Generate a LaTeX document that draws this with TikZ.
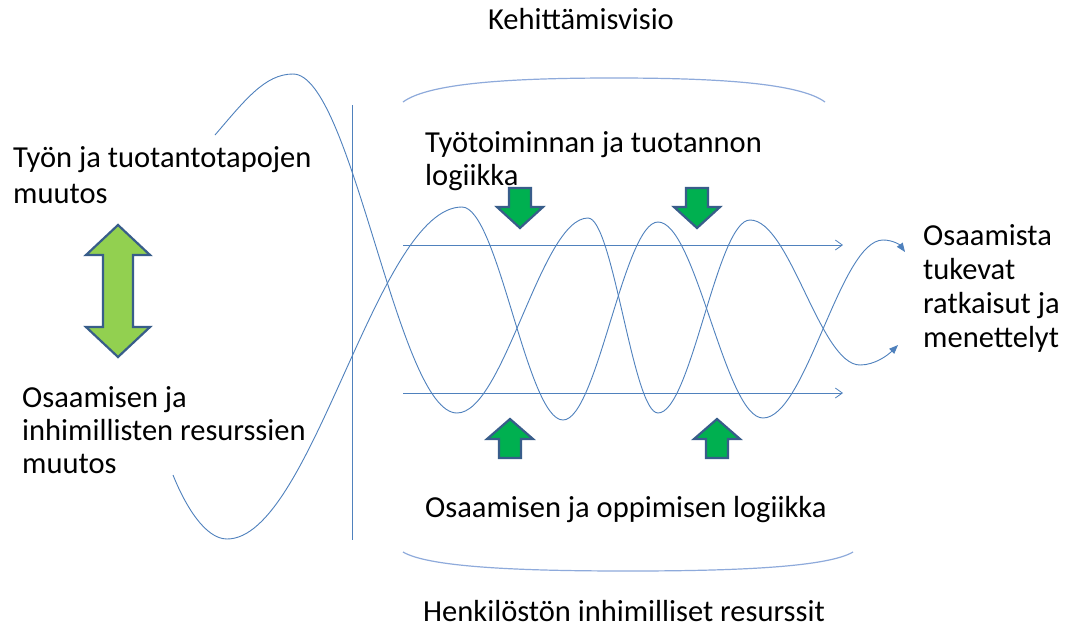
\documentclass[tikz,border=0pt]{standalone}
\usepackage{fontspec}
\setmainfont{Carlito}
\usetikzlibrary{arrows.meta}
\definecolor{wave}{HTML}{4F81BD}
\definecolor{frame}{HTML}{8EAADB}
\definecolor{edge}{HTML}{385D8A}
\definecolor{leaf}{HTML}{92D050}
\definecolor{grass}{HTML}{00B050}
\tikzset{
  labeltext/.style={anchor=base west,align=left,inner sep=0pt},
  wavepath/.style={draw=wave,line width=0.9pt},
  flowline/.style={draw=wave,line width=0.8pt,-{Straight Barb[length=7pt,width=10pt]}},
  greenarrow/.style={fill=grass,draw=edge,line width=2.2pt},
}

\begin{document}
\begin{tikzpicture}[x=1pt,y=-1pt,>={Triangle[length=9pt,width=7pt]},
                    font=\fontsize{30.5}{33}\selectfont]
  \fill[white] (0,0) rectangle (1077,633);
  \useasboundingbox (0,0) rectangle (1077,633);

  % texts (base = last line)
  \node[labeltext,anchor=base] (vision) at (581,29) {Kehittämisvisio};
  \node[labeltext,font=\fontsize{30.5}{36}\selectfont] (worktext) at (13,203)
    {Työn ja tuotantotapojen\\muutos};
  \node[labeltext] (comptext) at (22,473)
    {Osaamisen ja\\inhimillisten resurssien\\muutos};
  \node[labeltext] (prodlogic) at (425,185) {Työtoiminnan ja tuotannon\\logiikka};
  \node[labeltext] (learnlogic) at (425,517) {Osaamisen ja oppimisen logiikka};
  \node[labeltext] (hrtext) at (423,621) {Henkilöstön inhimilliset resurssit};
  \node[labeltext,font=\fontsize{30.5}{34}\selectfont] (solutions) at (923,347)
    {Osaamista\\tukevat\\ratkaisut ja\\menettelyt};

  % divider and brackets
  \draw[draw=wave,line width=1pt] (352,105) -- (352,540);
  \draw[draw=frame,line width=1.2pt] (403,102) .. controls (430,82) and (520,78) .. (614,78)
    .. controls (708,78) and (798,82) .. (825,102);
  \draw[draw=frame,line width=1.2pt] (403,552) .. controls (430,568) and (530,571) .. (628,571)
    .. controls (726,571) and (826,568) .. (853,552);

  % two waves
  \draw[wavepath,->] (215,135) .. controls (245,100) and (265,74) .. (293,74)
    .. controls (352,74) and (398,413) .. (457,413)
    .. controls (504,413) and (541,218) .. (588,218)
    .. controls (613,218) and (633,413) .. (658,413)
    .. controls (691,413) and (717,220) .. (750,220)
    .. controls (790,220) and (820,365) .. (860,365)
    .. controls (875,365) and (888,355) .. (898,345);
  \draw[wavepath,->] (173,475) .. controls (185,505) and (205,539) .. (227,539)
    .. controls (312,539) and (377,207) .. (462,207)
    .. controls (498,207) and (527,420) .. (563,420)
    .. controls (597,420) and (624,222) .. (658,222)
    .. controls (696,222) and (725,418) .. (763,418)
    .. controls (806,418) and (840,240) .. (883,240)
    .. controls (893,240) and (900,245) .. (905,252);

  % straight flows
  \coordinate (topin) at (403,245);
  \coordinate (topout) at (843,245);
  \coordinate (lowin) at (403,393);
  \coordinate (lowout) at (843,393);
  \draw[flowline] (topin) -- (topout);
  \draw[flowline] (lowin) -- (lowout);

  % block arrows
  \draw[greenarrow,fill=leaf] (118,225) -- (150,255) -- (133,255) -- (133,327) -- (150,327)
    -- (118,357) -- (86,327) -- (103,327) -- (103,255) -- (86,255) -- cycle;
  \foreach \c in {520,697}
    \draw[greenarrow] (\c-11,188) -- (\c+11,188) -- (\c+11,207) -- (\c+23,207)
      -- (\c,228) -- (\c-23,207) -- (\c-11,207) -- cycle;
  \foreach \c in {510,717}
    \draw[greenarrow] (\c-11,458) -- (\c+11,458) -- (\c+11,439) -- (\c+23,439)
      -- (\c,419) -- (\c-23,439) -- (\c-11,439) -- cycle;
\end{tikzpicture}
\end{document}
